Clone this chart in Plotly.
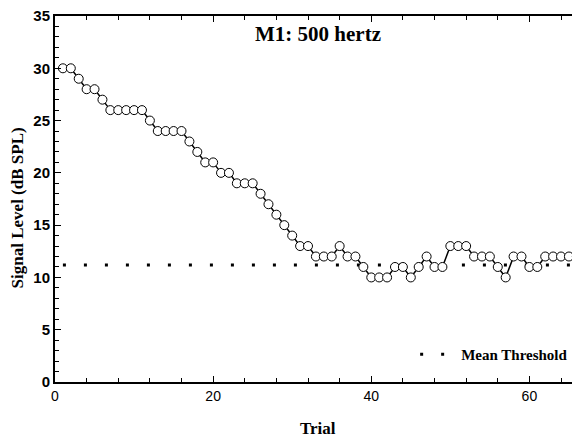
import plotly.graph_objects as go

trials = list(range(1, 67))
signal_level = [30, 30, 29, 28, 28, 27, 26, 26, 26, 26, 26, 25, 24, 24, 24, 24,
                23, 22, 21, 21, 20, 20, 19, 19, 19, 18, 17, 16, 15, 14, 13, 13,
                12, 12, 12, 13, 12, 12, 11, 10, 10, 10, 11, 11, 10, 11, 12, 11,
                11, 13, 13, 13, 12, 12, 12, 11, 10, 12, 12, 11, 11, 12, 12, 12,
                12, 12]
mean_threshold = 11.2
threshold_x = [1, 66]
title_text = "M1: 500 hertz"
x_title = "Trial"
y_title = "Signal Level (dB SPL)"
legend_label = "Mean Threshold"

SERIF = "Liberation Serif, Times New Roman, serif"
SANS = "Liberation Sans, Arial, sans-serif"

fig = go.Figure()
fig.add_trace(go.Scatter(
    x=threshold_x, y=[mean_threshold] * len(threshold_x),
    mode="lines", name=legend_label,
    line=dict(color="black", width=3, dash="3px,18px"),
    showlegend=True,
))
fig.add_trace(go.Scatter(
    x=trials, y=signal_level, mode="lines+markers",
    line=dict(color="black", width=1.5),
    marker=dict(symbol="circle", size=9, color="white",
                line=dict(color="black", width=1)),
    showlegend=False,
))

# page body has an 8px default margin, so the figure is sized to fit inside it
fig.update_layout(
    width=572, height=431,
    margin=dict(l=47, r=0, t=8, b=57),
    paper_bgcolor="white", plot_bgcolor="white",
    showlegend=True,
    legend=dict(x=0.686, y=0.075, xanchor="left", yanchor="middle",
                bgcolor="rgba(0,0,0,0)", itemwidth=36,
                font=dict(family=SERIF, size=15, color="black", weight="bold")),
    annotations=[
        dict(text="<b>" + title_text + "</b>", x=0.5, y=0.95,
             xref="paper", yref="paper", showarrow=False,
             xanchor="center", yanchor="middle",
             font=dict(family=SERIF, size=21, color="black")),
        dict(text="<b>" + x_title + "</b>", x=0.501, y=-0.128,
             xref="paper", yref="paper", showarrow=False,
             xanchor="center", yanchor="middle",
             font=dict(family=SERIF, size=17, color="black")),
        dict(text="<b>" + y_title + "</b>", x=-0.0719, y=0.475,
             xref="paper", yref="paper", showarrow=False, textangle=-90,
             xanchor="center", yanchor="middle",
             font=dict(family=SERIF, size=17, color="black")),
    ],
)
fig.update_xaxes(
    range=[0, 66.4], tickvals=[0, 20, 40, 60], automargin=False,
    ticks="inside", ticklen=6, tickwidth=1, tickcolor="black",
    minor=dict(dtick=4, tick0=0, ticks="inside", ticklen=4, tickcolor="black"),
    showline=True, linewidth=2, linecolor="black", mirror="allticks",
    showgrid=False, zeroline=False,
    tickfont=dict(family=SANS, size=14, color="black"),
)
fig.update_yaxes(
    range=[0, 35], dtick=5, tick0=0, automargin=False,
    ticklabeloverflow="allow",
    ticks="inside", ticklen=6, tickwidth=1, tickcolor="black",
    minor=dict(dtick=1, ticks="inside", ticklen=4, tickcolor="black"),
    showline=True, linewidth=2, linecolor="black", mirror="ticks",
    showgrid=False, zeroline=False,
    tickfont=dict(family=SANS, size=15, color="black", weight="bold"),
)

fig.write_html("out.html")
